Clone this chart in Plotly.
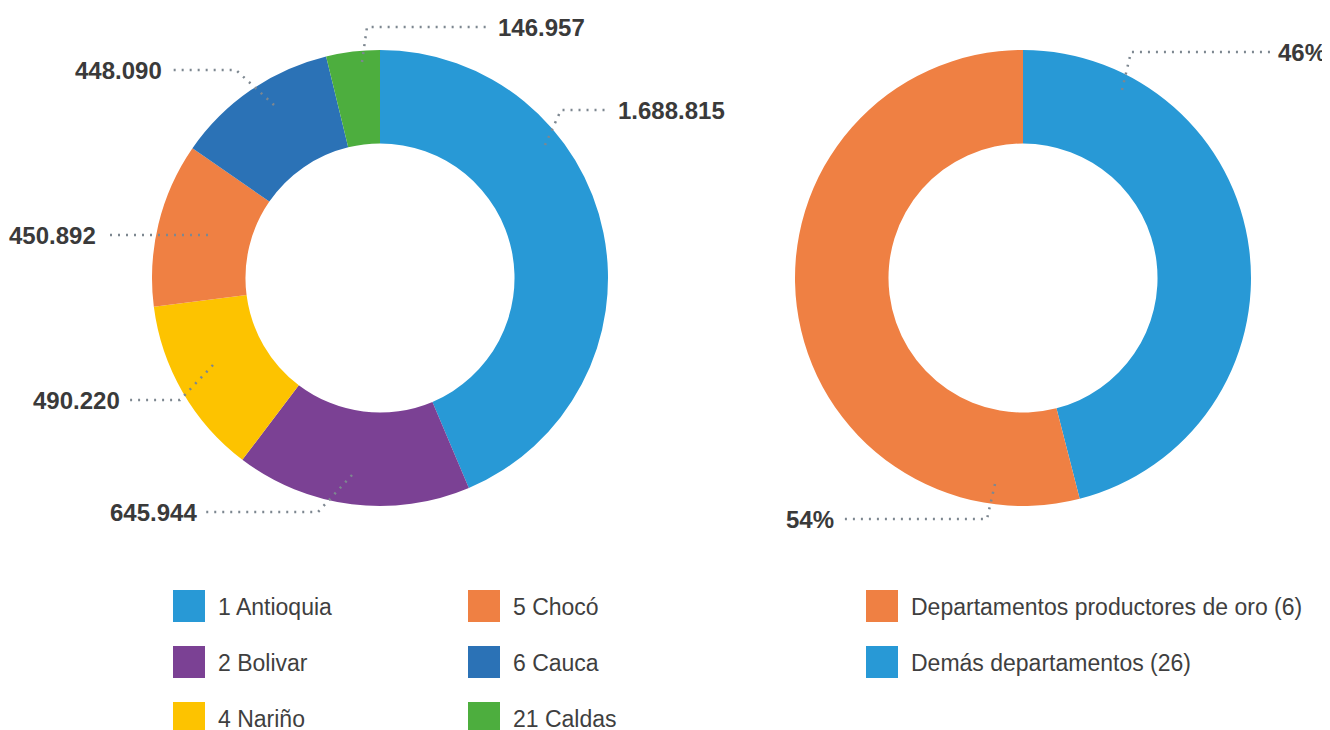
import plotly.graph_objects as go

# ---------------- data ----------------
dept_names = ["1 Antioquia", "2 Bolivar", "4 Nariño", "5 Chocó", "6 Cauca", "21 Caldas"]
dept_values = [1688815, 645944, 490220, 450892, 448090, 146957]
dept_colors = ["#2899d6", "#7b4194", "#fdc300", "#ef8043", "#2b72b6", "#4dae3e"]

group_names = ["Demás departamentos (26)", "Departamentos productores de oro (6)"]
group_values = [46, 54]
group_colors = ["#2899d6", "#ef8043"]

W, H = 1330, 730
OFF = 8  # page offset of the plot inside the browser body
LABEL_FONT = dict(family="Liberation Sans, Arial, sans-serif",
                  size=24, color="#3a3a3a", weight="bold")
LEGEND_FONT = dict(family="Liberation Sans, Arial, sans-serif", size=23, color="#3f3f3f")
LEADER = dict(color="#7d8790", width=2.5, dash="2px,6px")

# leader-line layout (screen pixel positions of the hand-placed callouts)
left_leaders = [
    dict(pts=[(545, 145), (561, 110), (610, 110)], anchor="left"),
    dict(pts=[(352, 475), (318, 512), (205, 512)], anchor="right"),
    dict(pts=[(213, 365), (180, 400), (128, 400)], anchor="right"),
    dict(pts=[(208, 235), (104, 235)], anchor="right"),
    dict(pts=[(274, 105), (236, 70), (170, 70)], anchor="right"),
    dict(pts=[(362, 62), (367, 27), (490, 27)], anchor="left"),
]
right_leaders = [
    dict(pts=[(1122, 90), (1131, 52), (1270, 52)], anchor="left"),
    dict(pts=[(995, 484), (987, 519), (842, 519)], anchor="right"),
]


def px(x):
    return (x - OFF) / W


def py(y):
    return 1 - (y - OFF) / H


fig = go.Figure()

# invisible trace to create the pixel-scaled overlay axes
fig.add_trace(go.Scatter(x=[None], y=[None], showlegend=False, hoverinfo="skip"))

fig.add_trace(go.Pie(
    labels=dept_names, values=dept_values, hole=0.59, sort=False,
    direction="clockwise", rotation=0,
    marker=dict(colors=dept_colors, line=dict(width=0)),
    textinfo="none", hoverinfo="label+value", showlegend=False,
    domain=dict(x=[px(152), px(608)], y=[py(506), py(50)]),
))
fig.add_trace(go.Pie(
    labels=group_names, values=group_values, hole=0.59, sort=False,
    direction="clockwise", rotation=0,
    marker=dict(colors=group_colors, line=dict(width=0)),
    textinfo="none", hoverinfo="label+percent", showlegend=False,
    domain=dict(x=[px(795), px(1251)], y=[py(506), py(50)]),
))

shapes = []
annotations = []


def add_leader(leader, text):
    pts = leader["pts"]
    path = "M " + " L ".join(f"{x},{y}" for x, y in pts)
    shapes.append(dict(type="path", path=path, xref="x", yref="y",
                       line=LEADER, layer="above"))
    ex, ey = pts[-1]
    off = 6 if leader["anchor"] == "left" else -6
    annotations.append(dict(x=ex + off, y=ey, xref="x", yref="y", text=text,
                            showarrow=False, xanchor=leader["anchor"],
                            yanchor="middle", font=LABEL_FONT))


def fmt(v):
    return f"{v:,}".replace(",", ".")


for leader, v in zip(left_leaders, dept_values):
    add_leader(leader, fmt(v))

total = sum(group_values)
for leader, v in zip(right_leaders, group_values):
    add_leader(leader, f"{round(100 * v / total)}%")

# custom legends
left_cols = [173, 468]
rows = [590, 646, 702]
for i, (name, col) in enumerate(zip(dept_names, dept_colors)):
    x0 = left_cols[i // 3]
    y0 = rows[i % 3]
    shapes.append(dict(type="rect", xref="x", yref="y", x0=x0, x1=x0 + 32,
                       y0=y0, y1=y0 + 32, fillcolor=col, line=dict(width=0)))
    annotations.append(dict(x=x0 + 43, y=y0 + 17, xref="x", yref="y", text=name,
                            showarrow=False, xanchor="left", yanchor="middle",
                            font=LEGEND_FONT))

legend_order = [1, 0]
for r, idx in enumerate(legend_order):
    x0 = 866
    y0 = rows[r]
    shapes.append(dict(type="rect", xref="x", yref="y", x0=x0, x1=x0 + 32,
                       y0=y0, y1=y0 + 32, fillcolor=group_colors[idx], line=dict(width=0)))
    annotations.append(dict(x=x0 + 43, y=y0 + 17, xref="x", yref="y",
                            text=group_names[idx], showarrow=False, xanchor="left",
                            yanchor="middle", font=LEGEND_FONT))

fig.update_layout(
    width=W, height=H,
    margin=dict(l=0, r=0, t=0, b=0),
    paper_bgcolor="white", plot_bgcolor="rgba(0,0,0,0)",
    xaxis=dict(range=[OFF, W + OFF], visible=False, fixedrange=True, domain=[0, 1]),
    yaxis=dict(range=[H + OFF, OFF], visible=False, fixedrange=True, domain=[0, 1]),
    shapes=shapes, annotations=annotations,
    showlegend=False,
)

fig.write_html("out.html")
